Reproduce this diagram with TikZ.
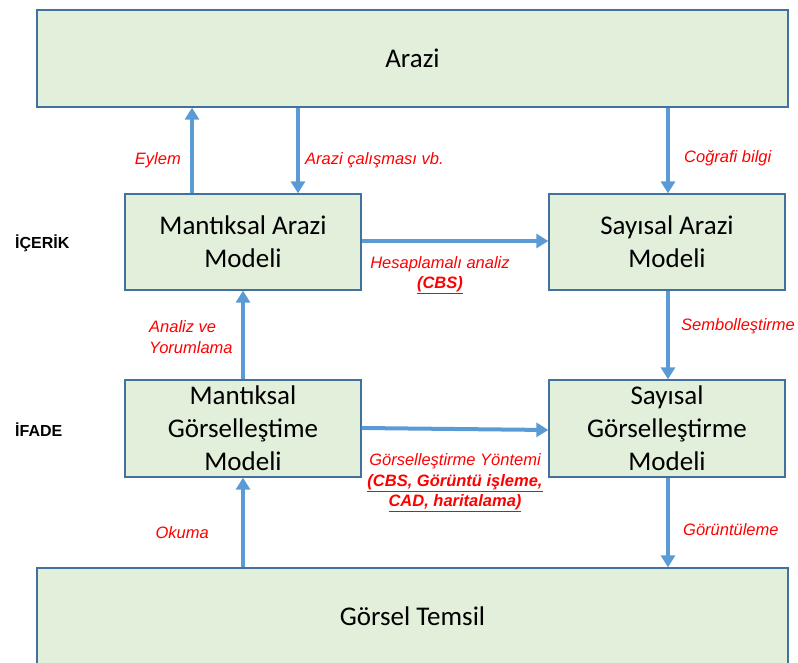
\documentclass[tikz,border=0pt]{standalone}
\usepackage{fontspec}
\setmainfont{Carlito}
\newfontfamily\labelfont{Liberation Sans}
\usetikzlibrary{arrows.meta}
\definecolor{boxfill}{HTML}{E2EFDA}
\definecolor{boxline}{HTML}{41719C}
\definecolor{flow}{HTML}{5B9BD5}
\definecolor{note}{HTML}{FF0000}
\begin{document}
\begin{tikzpicture}[x=1pt,y=-1pt,
  model/.style={draw=boxline,line width=1.3pt,fill=boxfill,inner sep=0pt,
    align=center,font=\fontsize{27}{33}\selectfont},
  flowarrow/.style={draw=flow,line width=4pt,
    -{Triangle[width=14pt,length=12pt]}},
  notelabel/.style={text=note,font=\labelfont\itshape\fontsize{16.5}{20.5}\selectfont,inner sep=0pt},
  levellabel/.style={font=\labelfont\bfseries\fontsize{16}{18}\selectfont,inner sep=0pt,anchor=west}]
\useasboundingbox (0,0) rectangle (798,663);
\clip (0,0) rectangle (798,663);

% boxes
\node[model,minimum width=751pt,minimum height=97pt] (arazi) at (412.5,58.5) {Arazi};
\node[model,minimum width=236pt,minimum height=96pt] (mam) at (243,242) {Mantıksal Arazi\\Modeli};
\node[model,minimum width=236pt,minimum height=96pt] (sam) at (667,242) {Sayısal Arazi\\Modeli};
\node[model,minimum width=236pt,minimum height=97pt] (mgm) at (243,428.5) {Mantıksal\\Görselleştime\\Modeli};
\node[model,minimum width=236pt,minimum height=97pt] (sgm) at (667,428.5) {Sayısal\\Görselleştirme\\Modeli};
\node[model,minimum width=751pt,minimum height=140pt] (temsil) at (412.5,638) {};
\node[font=\fontsize{27}{33}\selectfont] (temsiltext) at (412.5,616) {Görsel Temsil};

% level labels
\node[levellabel] (icerik) at (15,243) {İÇERİK};
\node[levellabel] (ifade) at (15,430) {İFADE};

% connectors
\draw[flowarrow] (mam.north -| 192,0) -- (arazi.south -| 192,0);
\draw[flowarrow] (arazi.south -| 298,0) -- (mam.north -| 298,0);
\draw[flowarrow] (arazi.south -| 668,0) -- (sam.north -| 668,0);
\draw[flowarrow] (mam.east |- 0,241) -- (sam.west |- 0,241);
\draw[flowarrow] (sam.south -| 668,0) -- (sgm.north -| 668,0);
\draw[flowarrow] (mgm.north) -- (mam.south);
\draw[flowarrow] (mgm.east |- 0,428) -- (sgm.west |- 0,430);
\draw[flowarrow] (sgm.south -| 668,0) -- (temsil.north -| 668,0);
\draw[flowarrow] (temsil.north -| mgm.south) -- (mgm.south);

% connector labels
\node[notelabel,anchor=east] (l1) at (181,160) {Eylem};
\node[notelabel,anchor=west] (l2) at (305,160) {Arazi çalışması vb.};
\node[notelabel,anchor=west] (l3) at (684,158) {Coğrafi bilgi};
\node[notelabel,align=center] (l4) at (440,275) {Hesaplamalı analiz\\\textbf{\underline{(CBS)}}};
\node[notelabel,anchor=west] (l5) at (681,326) {Sembolleştirme};
\node[notelabel,anchor=west,align=left] (l6) at (149,337) {Analiz ve\\Yorumlama};
\node[notelabel,align=center] (l7) at (455,483) {Görselleştirme Yöntemi\\\textbf{\underline{(CBS, Görüntü işleme,}}\\\textbf{\underline{CAD, haritalama)}}};
\node[notelabel,anchor=west] (l8) at (683,530) {Görüntüleme};
\node[notelabel,anchor=east] (l9) at (209,533) {Okuma};
\end{tikzpicture}
\end{document}
